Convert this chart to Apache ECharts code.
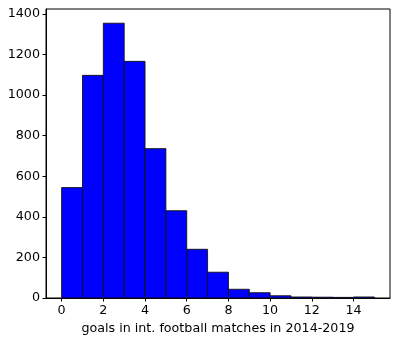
<!DOCTYPE html>
<html>
<head>
<meta charset="utf-8">
<script src="https://cdn.jsdelivr.net/npm/echarts@6/dist/echarts.min.js"></script>
<style>
  html, body { margin: 0; padding: 0; background: #fff; }
  #chart { width: 399px; height: 342px; }
</style>
</head>
<body>
<div id="chart"></div>
<script>
// histogram bins: [left edge, count], width 1
var binStarts = [0, 1, 2, 3, 4, 5, 6, 7, 8, 9, 10, 11, 12, 13, 14];
var counts = [544, 1097, 1354, 1166, 736, 430, 240, 127, 43, 26, 11, 5, 4, 3, 5];
var xTicks = [0, 2, 4, 6, 8, 10, 12, 14];
var yTicks = [0, 200, 400, 600, 800, 1000, 1200, 1400];

var dom = document.getElementById('chart');
var myChart = echarts.init(dom, null, { renderer: 'canvas' });

var fontFamily = 'DejaVu Sans';
var plain = function (v) { return String(v); };
var option = {
  animation: false,
  grid: {
    left: 46, right: 9, top: 9, bottom: 44,
    show: true,
    borderColor: '#000',
    borderWidth: 1
  },
  xAxis: {
    type: 'value',
    min: -0.75,
    max: 15.75,
    name: 'goals in int. football matches in 2014-2019',
    nameLocation: 'middle',
    nameGap: 20,
    nameTextStyle: { color: '#000', fontSize: 12.7, fontFamily: fontFamily, verticalAlign: 'top' },
    splitLine: { show: false },
    axisLine: { onZero: false, lineStyle: { color: '#000', width: 1 } },
    axisTick: { customValues: xTicks, length: 3.5, lineStyle: { color: '#000' } },
    axisLabel: { customValues: xTicks, formatter: plain, color: '#000', fontSize: 12.7, fontFamily: fontFamily, margin: 6 }
  },
  yAxis: {
    type: 'value',
    min: 0,
    max: 1424,
    splitLine: { show: false },
    axisLine: { show: true, onZero: false, lineStyle: { color: '#000', width: 1 } },
    axisTick: { show: true, customValues: yTicks, length: 3.5, lineStyle: { color: '#000' } },
    axisLabel: { customValues: yTicks, formatter: plain, color: '#000', fontSize: 12.7, fontFamily: fontFamily, margin: 6 }
  },
  series: [{
    type: 'custom',
    data: binStarts.map(function (b, i) { return [b, counts[i]]; }),
    renderItem: function (params, api) {
      var x0 = api.value(0);
      var v = api.value(1);
      var p0 = api.coord([x0, v]);
      var p1 = api.coord([x0 + 1, 0]);
      return {
        type: 'rect',
        shape: { x: p0[0], y: p0[1], width: p1[0] - p0[0], height: p1[1] - p0[1] },
        style: { fill: '#0000ff', stroke: '#111', lineWidth: 0.9 }
      };
    }
  }]
};

myChart.setOption(option);
window.addEventListener('resize', myChart.resize);
</script>
</body>
</html>
